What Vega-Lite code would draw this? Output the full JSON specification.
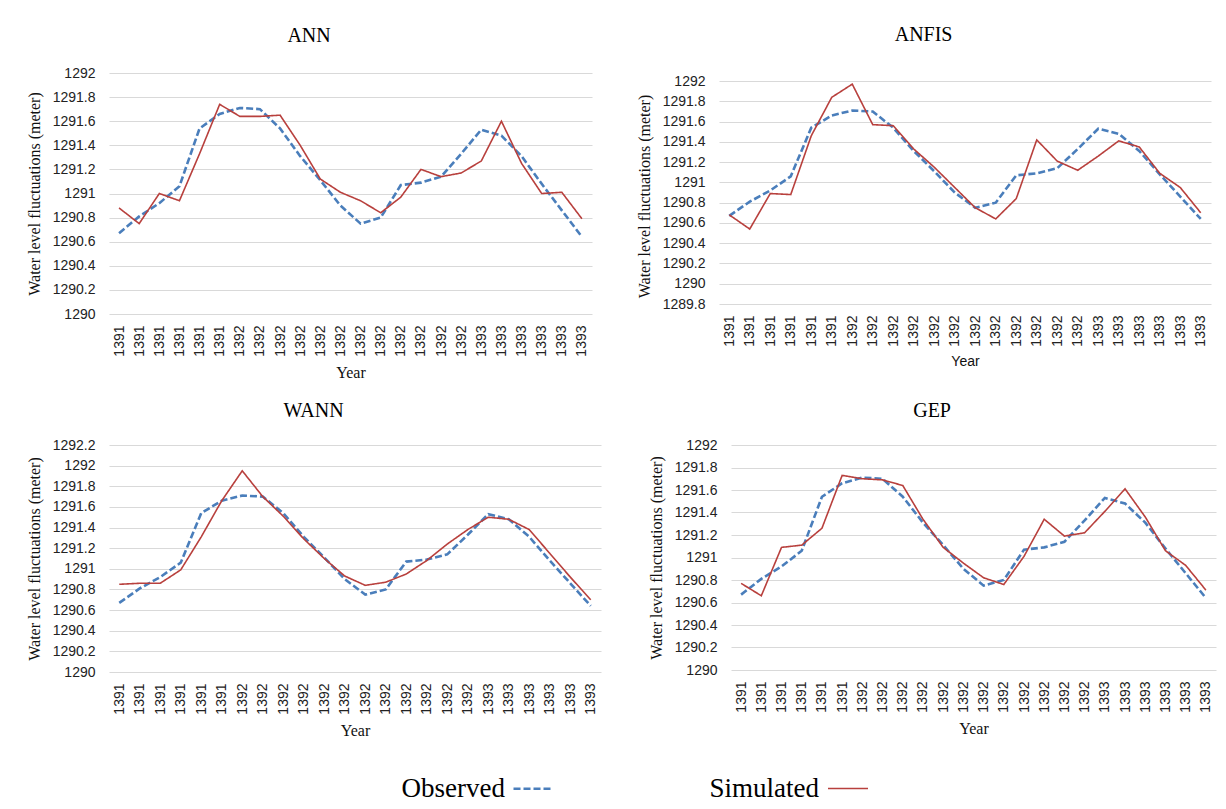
{
  "$schema": "https://vega.github.io/schema/vega-lite/v6.json",
  "background": "white",
  "padding": {"left": 26, "top": 25, "right": 10, "bottom": 5},
  "datasets": {
    "obs": [
      {"t": 1, "value": 1290.67, "series": "Observed"},
      {"t": 2, "value": 1290.81, "series": "Observed"},
      {"t": 3, "value": 1290.92, "series": "Observed"},
      {"t": 4, "value": 1291.06, "series": "Observed"},
      {"t": 5, "value": 1291.54, "series": "Observed"},
      {"t": 6, "value": 1291.66, "series": "Observed"},
      {"t": 7, "value": 1291.71, "series": "Observed"},
      {"t": 8, "value": 1291.70, "series": "Observed"},
      {"t": 9, "value": 1291.54, "series": "Observed"},
      {"t": 10, "value": 1291.31, "series": "Observed"},
      {"t": 11, "value": 1291.11, "series": "Observed"},
      {"t": 12, "value": 1290.90, "series": "Observed"},
      {"t": 13, "value": 1290.75, "series": "Observed"},
      {"t": 14, "value": 1290.80, "series": "Observed"},
      {"t": 15, "value": 1291.07, "series": "Observed"},
      {"t": 16, "value": 1291.09, "series": "Observed"},
      {"t": 17, "value": 1291.14, "series": "Observed"},
      {"t": 18, "value": 1291.33, "series": "Observed"},
      {"t": 19, "value": 1291.53, "series": "Observed"},
      {"t": 20, "value": 1291.48, "series": "Observed"},
      {"t": 21, "value": 1291.31, "series": "Observed"},
      {"t": 22, "value": 1291.08, "series": "Observed"},
      {"t": 23, "value": 1290.86, "series": "Observed"},
      {"t": 24, "value": 1290.64, "series": "Observed"}
    ],
    "sim": [
      {"model": "ANN", "t": 1, "value": 1290.88, "series": "Simulated"},
      {"model": "ANN", "t": 2, "value": 1290.75, "series": "Simulated"},
      {"model": "ANN", "t": 3, "value": 1291.00, "series": "Simulated"},
      {"model": "ANN", "t": 4, "value": 1290.94, "series": "Simulated"},
      {"model": "ANN", "t": 5, "value": 1291.33, "series": "Simulated"},
      {"model": "ANN", "t": 6, "value": 1291.74, "series": "Simulated"},
      {"model": "ANN", "t": 7, "value": 1291.64, "series": "Simulated"},
      {"model": "ANN", "t": 8, "value": 1291.64, "series": "Simulated"},
      {"model": "ANN", "t": 9, "value": 1291.65, "series": "Simulated"},
      {"model": "ANN", "t": 10, "value": 1291.40, "series": "Simulated"},
      {"model": "ANN", "t": 11, "value": 1291.12, "series": "Simulated"},
      {"model": "ANN", "t": 12, "value": 1291.01, "series": "Simulated"},
      {"model": "ANN", "t": 13, "value": 1290.94, "series": "Simulated"},
      {"model": "ANN", "t": 14, "value": 1290.84, "series": "Simulated"},
      {"model": "ANN", "t": 15, "value": 1290.97, "series": "Simulated"},
      {"model": "ANN", "t": 16, "value": 1291.20, "series": "Simulated"},
      {"model": "ANN", "t": 17, "value": 1291.14, "series": "Simulated"},
      {"model": "ANN", "t": 18, "value": 1291.17, "series": "Simulated"},
      {"model": "ANN", "t": 19, "value": 1291.27, "series": "Simulated"},
      {"model": "ANN", "t": 20, "value": 1291.60, "series": "Simulated"},
      {"model": "ANN", "t": 21, "value": 1291.25, "series": "Simulated"},
      {"model": "ANN", "t": 22, "value": 1291.00, "series": "Simulated"},
      {"model": "ANN", "t": 23, "value": 1291.01, "series": "Simulated"},
      {"model": "ANN", "t": 24, "value": 1290.79, "series": "Simulated"},
      {"model": "ANFIS", "t": 1, "value": 1290.68, "series": "Simulated"},
      {"model": "ANFIS", "t": 2, "value": 1290.54, "series": "Simulated"},
      {"model": "ANFIS", "t": 3, "value": 1290.89, "series": "Simulated"},
      {"model": "ANFIS", "t": 4, "value": 1290.88, "series": "Simulated"},
      {"model": "ANFIS", "t": 5, "value": 1291.46, "series": "Simulated"},
      {"model": "ANFIS", "t": 6, "value": 1291.84, "series": "Simulated"},
      {"model": "ANFIS", "t": 7, "value": 1291.97, "series": "Simulated"},
      {"model": "ANFIS", "t": 8, "value": 1291.57, "series": "Simulated"},
      {"model": "ANFIS", "t": 9, "value": 1291.56, "series": "Simulated"},
      {"model": "ANFIS", "t": 10, "value": 1291.33, "series": "Simulated"},
      {"model": "ANFIS", "t": 11, "value": 1291.15, "series": "Simulated"},
      {"model": "ANFIS", "t": 12, "value": 1290.95, "series": "Simulated"},
      {"model": "ANFIS", "t": 13, "value": 1290.75, "series": "Simulated"},
      {"model": "ANFIS", "t": 14, "value": 1290.64, "series": "Simulated"},
      {"model": "ANFIS", "t": 15, "value": 1290.84, "series": "Simulated"},
      {"model": "ANFIS", "t": 16, "value": 1291.42, "series": "Simulated"},
      {"model": "ANFIS", "t": 17, "value": 1291.21, "series": "Simulated"},
      {"model": "ANFIS", "t": 18, "value": 1291.12, "series": "Simulated"},
      {"model": "ANFIS", "t": 19, "value": 1291.26, "series": "Simulated"},
      {"model": "ANFIS", "t": 20, "value": 1291.41, "series": "Simulated"},
      {"model": "ANFIS", "t": 21, "value": 1291.35, "series": "Simulated"},
      {"model": "ANFIS", "t": 22, "value": 1291.09, "series": "Simulated"},
      {"model": "ANFIS", "t": 23, "value": 1290.95, "series": "Simulated"},
      {"model": "ANFIS", "t": 24, "value": 1290.70, "series": "Simulated"},
      {"model": "WANN", "t": 1, "value": 1290.85, "series": "Simulated"},
      {"model": "WANN", "t": 2, "value": 1290.86, "series": "Simulated"},
      {"model": "WANN", "t": 3, "value": 1290.86, "series": "Simulated"},
      {"model": "WANN", "t": 4, "value": 1290.99, "series": "Simulated"},
      {"model": "WANN", "t": 5, "value": 1291.31, "series": "Simulated"},
      {"model": "WANN", "t": 6, "value": 1291.66, "series": "Simulated"},
      {"model": "WANN", "t": 7, "value": 1291.95, "series": "Simulated"},
      {"model": "WANN", "t": 8, "value": 1291.70, "series": "Simulated"},
      {"model": "WANN", "t": 9, "value": 1291.51, "series": "Simulated"},
      {"model": "WANN", "t": 10, "value": 1291.29, "series": "Simulated"},
      {"model": "WANN", "t": 11, "value": 1291.10, "series": "Simulated"},
      {"model": "WANN", "t": 12, "value": 1290.93, "series": "Simulated"},
      {"model": "WANN", "t": 13, "value": 1290.84, "series": "Simulated"},
      {"model": "WANN", "t": 14, "value": 1290.87, "series": "Simulated"},
      {"model": "WANN", "t": 15, "value": 1290.95, "series": "Simulated"},
      {"model": "WANN", "t": 16, "value": 1291.08, "series": "Simulated"},
      {"model": "WANN", "t": 17, "value": 1291.24, "series": "Simulated"},
      {"model": "WANN", "t": 18, "value": 1291.38, "series": "Simulated"},
      {"model": "WANN", "t": 19, "value": 1291.50, "series": "Simulated"},
      {"model": "WANN", "t": 20, "value": 1291.48, "series": "Simulated"},
      {"model": "WANN", "t": 21, "value": 1291.38, "series": "Simulated"},
      {"model": "WANN", "t": 22, "value": 1291.15, "series": "Simulated"},
      {"model": "WANN", "t": 23, "value": 1290.92, "series": "Simulated"},
      {"model": "WANN", "t": 24, "value": 1290.70, "series": "Simulated"},
      {"model": "GEP", "t": 1, "value": 1290.77, "series": "Simulated"},
      {"model": "GEP", "t": 2, "value": 1290.66, "series": "Simulated"},
      {"model": "GEP", "t": 3, "value": 1291.09, "series": "Simulated"},
      {"model": "GEP", "t": 4, "value": 1291.11, "series": "Simulated"},
      {"model": "GEP", "t": 5, "value": 1291.26, "series": "Simulated"},
      {"model": "GEP", "t": 6, "value": 1291.73, "series": "Simulated"},
      {"model": "GEP", "t": 7, "value": 1291.70, "series": "Simulated"},
      {"model": "GEP", "t": 8, "value": 1291.69, "series": "Simulated"},
      {"model": "GEP", "t": 9, "value": 1291.64, "series": "Simulated"},
      {"model": "GEP", "t": 10, "value": 1291.34, "series": "Simulated"},
      {"model": "GEP", "t": 11, "value": 1291.09, "series": "Simulated"},
      {"model": "GEP", "t": 12, "value": 1290.95, "series": "Simulated"},
      {"model": "GEP", "t": 13, "value": 1290.82, "series": "Simulated"},
      {"model": "GEP", "t": 14, "value": 1290.76, "series": "Simulated"},
      {"model": "GEP", "t": 15, "value": 1291.01, "series": "Simulated"},
      {"model": "GEP", "t": 16, "value": 1291.34, "series": "Simulated"},
      {"model": "GEP", "t": 17, "value": 1291.19, "series": "Simulated"},
      {"model": "GEP", "t": 18, "value": 1291.22, "series": "Simulated"},
      {"model": "GEP", "t": 19, "value": 1291.41, "series": "Simulated"},
      {"model": "GEP", "t": 20, "value": 1291.61, "series": "Simulated"},
      {"model": "GEP", "t": 21, "value": 1291.36, "series": "Simulated"},
      {"model": "GEP", "t": 22, "value": 1291.06, "series": "Simulated"},
      {"model": "GEP", "t": 23, "value": 1290.93, "series": "Simulated"},
      {"model": "GEP", "t": 24, "value": 1290.71, "series": "Simulated"}
    ]
  },
  "vconcat": [
    {
      "hconcat": [
        {
          "title": {"text": "ANN", "offset": 20},
          "width": 483,
          "height": 241,
          "encoding": {
            "x": {"field": "t", "type": "ordinal", "scale": {"type": "point", "padding": 0.5},
                  "axis": {"title": "Year", "labelAngle": -90, "labelExpr": "datum.value <= 6 ? '1391' : datum.value <= 18 ? '1392' : '1393'"}},
            "y": {"field": "value", "type": "quantitative", "scale": {"domain": [1290, 1292], "zero": false, "nice": false},
                  "axis": {"title": "Water level fluctuations (meter)", "values": [1290, 1290.2, 1290.4, 1290.6, 1290.8, 1291, 1291.2, 1291.4, 1291.6, 1291.8, 1292], "format": "~r"}},
            "color": {"field": "series", "type": "nominal", "scale": {"domain": ["Observed", "Simulated"], "range": ["#4a7ebb", "#b8403d"]},
                      "legend": {"title": null, "orient": "none", "legendX": 403, "legendY": 694}},
            "strokeDash": {"field": "series", "type": "nominal", "scale": {"domain": ["Observed", "Simulated"], "range": [[7, 3], [1, 0]]},
                           "legend": {"title": null, "orient": "none", "legendX": 403, "legendY": 694}},
            "strokeWidth": {"field": "series", "type": "nominal", "scale": {"domain": ["Observed", "Simulated"], "range": [2.6, 1.6]}, "legend": null}
          },
          "layer": [
            {"data": {"name": "obs"}, "mark": {"type": "line"}},
            {"data": {"name": "sim"}, "transform": [{"filter": "datum.model == 'ANN'"}], "mark": {"type": "line"}}
          ]
        },
        {
          "title": {"text": "ANFIS", "offset": 28},
          "width": 492,
          "height": 231,
          "encoding": {
            "x": {"field": "t", "type": "ordinal", "scale": {"type": "point", "padding": 0.5},
                  "axis": {"title": "Year", "titleFont": "Liberation Sans", "titleFontSize": 14, "labelAngle": -90, "labelExpr": "datum.value <= 6 ? '1391' : datum.value <= 18 ? '1392' : '1393'"}},
            "y": {"field": "value", "type": "quantitative", "scale": {"domain": [1289.8, 1292.08], "zero": false, "nice": false},
                  "axis": {"title": "Water level fluctuations (meter)", "titleY": 123, "values": [1289.8, 1290, 1290.2, 1290.4, 1290.6, 1290.8, 1291, 1291.2, 1291.4, 1291.6, 1291.8, 1292], "format": "~r"}},
            "color": {"field": "series", "type": "nominal", "scale": {"domain": ["Observed", "Simulated"], "range": ["#4a7ebb", "#b8403d"]},
                      "legend": {"title": null, "orient": "none", "legendX": 403, "legendY": 694}},
            "strokeDash": {"field": "series", "type": "nominal", "scale": {"domain": ["Observed", "Simulated"], "range": [[7, 3], [1, 0]]},
                           "legend": {"title": null, "orient": "none", "legendX": 403, "legendY": 694}},
            "strokeWidth": {"field": "series", "type": "nominal", "scale": {"domain": ["Observed", "Simulated"], "range": [2.6, 1.6]}, "legend": null}
          },
          "layer": [
            {"data": {"name": "obs"}, "mark": {"type": "line"}},
            {"data": {"name": "sim"}, "transform": [{"filter": "datum.model == 'ANFIS'"}], "mark": {"type": "line"}}
          ]
        }
      ],
      "spacing": 44
    },
    {
      "hconcat": [
        {
          "title": {"text": "WANN", "offset": 17},
          "width": 492,
          "height": 227,
          "encoding": {
            "x": {"field": "t", "type": "ordinal", "scale": {"type": "point", "padding": 0.5},
                  "axis": {"title": "Year", "labelAngle": -90, "labelExpr": "datum.value <= 6 ? '1391' : datum.value <= 18 ? '1392' : '1393'"}},
            "y": {"field": "value", "type": "quantitative", "scale": {"domain": [1290, 1292.2], "zero": false, "nice": false},
                  "axis": {"title": "Water level fluctuations (meter)", "values": [1290, 1290.2, 1290.4, 1290.6, 1290.8, 1291, 1291.2, 1291.4, 1291.6, 1291.8, 1292, 1292.2], "format": "~r"}},
            "color": {"field": "series", "type": "nominal", "scale": {"domain": ["Observed", "Simulated"], "range": ["#4a7ebb", "#b8403d"]},
                      "legend": {"title": null, "orient": "none", "legendX": 403, "legendY": 694}},
            "strokeDash": {"field": "series", "type": "nominal", "scale": {"domain": ["Observed", "Simulated"], "range": [[7, 3], [1, 0]]},
                           "legend": {"title": null, "orient": "none", "legendX": 403, "legendY": 694}},
            "strokeWidth": {"field": "series", "type": "nominal", "scale": {"domain": ["Observed", "Simulated"], "range": [2.6, 1.6]}, "legend": null}
          },
          "layer": [
            {"data": {"name": "obs"}, "mark": {"type": "line"}},
            {"data": {"name": "sim"}, "transform": [{"filter": "datum.model == 'WANN'"}], "mark": {"type": "line"}}
          ]
        },
        {
          "title": {"text": "GEP", "offset": 17},
          "width": 485,
          "height": 225,
          "encoding": {
            "x": {"field": "t", "type": "ordinal", "scale": {"type": "point", "padding": 0.5},
                  "axis": {"title": "Year", "labelAngle": -90, "labelExpr": "datum.value <= 6 ? '1391' : datum.value <= 18 ? '1392' : '1393'"}},
            "y": {"field": "value", "type": "quantitative", "scale": {"domain": [1290, 1292], "zero": false, "nice": false},
                  "axis": {"title": "Water level fluctuations (meter)", "values": [1290, 1290.2, 1290.4, 1290.6, 1290.8, 1291, 1291.2, 1291.4, 1291.6, 1291.8, 1292], "format": "~r"}},
            "color": {"field": "series", "type": "nominal", "scale": {"domain": ["Observed", "Simulated"], "range": ["#4a7ebb", "#b8403d"]},
                      "legend": {"title": null, "orient": "none", "legendX": 403, "legendY": 694}},
            "strokeDash": {"field": "series", "type": "nominal", "scale": {"domain": ["Observed", "Simulated"], "range": [[7, 3], [1, 0]]},
                           "legend": {"title": null, "orient": "none", "legendX": 403, "legendY": 694}},
            "strokeWidth": {"field": "series", "type": "nominal", "scale": {"domain": ["Observed", "Simulated"], "range": [2.6, 1.6]}, "legend": null}
          },
          "layer": [
            {"data": {"name": "obs"}, "mark": {"type": "line"}},
            {"data": {"name": "sim"}, "transform": [{"filter": "datum.model == 'GEP'"}], "mark": {"type": "line"}}
          ]
        }
      ],
      "spacing": 47
    }
  ],
  "spacing": 20,
  "config": {
    "font": "Liberation Serif",
    "view": {"stroke": null},
    "title": {"font": "Liberation Serif", "fontSize": 20, "fontWeight": "normal", "color": "#000", "frame": "bounds", "anchor": "middle"},
    "axis": {
      "labelFont": "Liberation Sans", "labelFontSize": 14, "labelColor": "#222",
      "titleFont": "Liberation Serif", "titleFontSize": 16, "titleFontWeight": "normal", "titleColor": "#111",
      "gridColor": "#d9d9d9", "gridWidth": 1, "ticks": false, "domain": false
    },
    "axisX": {"grid": false, "labelPadding": 11, "titlePadding": 8},
    "axisY": {"labelPadding": 14, "titlePadding": 10},
    "legend": {
      "direction": "horizontal", "labelFont": "Liberation Serif", "labelFontSize": 27,
      "labelColor": "#000", "symbolType": "stroke", "symbolSize": 1600, "symbolStrokeWidth": 2.2,
      "labelAlign": "right", "labelOffset": -50, "columnPadding": 150
    }
  }
}
